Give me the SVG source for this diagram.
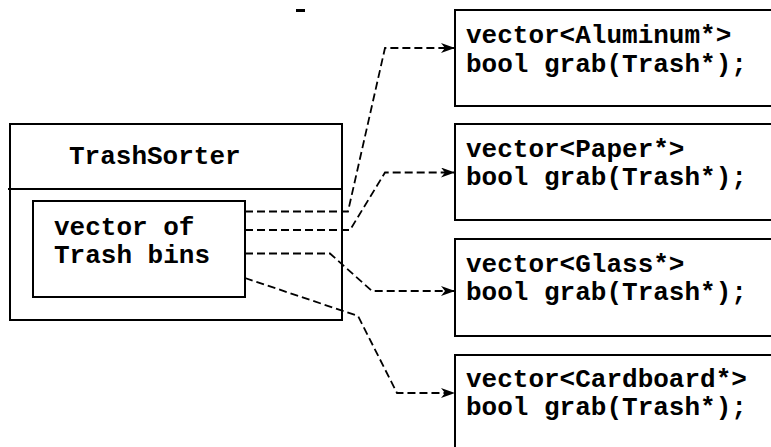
<svg xmlns="http://www.w3.org/2000/svg" width="771" height="447" viewBox="0 0 771 447">
<style>
.box{fill:#fff;stroke:#000;stroke-width:2}
.t{font-family:"Liberation Mono","Courier New",monospace;font-weight:bold;font-size:26px;fill:#000}
.c{fill:none;stroke:#000;stroke-width:1.8;stroke-dasharray:8 4}
</style>
<defs>
<marker id="ah" viewBox="0 0 14 10" refX="14" refY="5" markerWidth="14" markerHeight="10" markerUnits="userSpaceOnUse" orient="auto">
<path d="M0,0 L14,5 L0,10 L4,5 Z" fill="#000"/>
</marker>
</defs>
<rect x="296" y="9" width="9" height="3" fill="#000"/>
<g id="trashsorter">
<rect class="box" x="10" y="124" width="332" height="196"/>
<line x1="8" y1="189" x2="343" y2="189" stroke="#000" stroke-width="2"/>
<text class="t" x="69" y="164">TrashSorter</text>
</g>
<g id="bins">
<rect class="box" x="33" y="201" width="212" height="96"/>
<text class="t" x="54" y="235">vector of</text>
<text class="t" x="54" y="263">Trash bins</text>
</g>
<g id="aluminum">
<rect class="box" x="455" y="10" width="330" height="96"/>
<text class="t" x="466" y="43">vector&lt;Aluminum*&gt;</text>
<text class="t" x="466" y="72">bool grab(Trash*);</text>
</g>
<g id="paper">
<rect class="box" x="455" y="124" width="330" height="96"/>
<text class="t" x="466" y="157">vector&lt;Paper*&gt;</text>
<text class="t" x="466" y="185">bool grab(Trash*);</text>
</g>
<g id="glass">
<rect class="box" x="455" y="239" width="330" height="97"/>
<text class="t" x="466" y="272">vector&lt;Glass*&gt;</text>
<text class="t" x="466" y="300">bool grab(Trash*);</text>
</g>
<g id="cardboard">
<rect class="box" x="455" y="355" width="330" height="110"/>
<text class="t" x="466" y="387">vector&lt;Cardboard*&gt;</text>
<text class="t" x="466" y="415">bool grab(Trash*);</text>
</g>
<g id="connectors">
<polyline class="c" points="245,211.5 348,211.5 385,48 455,48" marker-end="url(#ah)"/>
<polyline class="c" points="245,230 350,230 385,172.5 455,172.5" marker-end="url(#ah)"/>
<polyline class="c" points="245,253.5 330,253.5 372,291 455,291" marker-end="url(#ah)"/>
<polyline class="c" points="245,278 358,316 397,393 455,393" marker-end="url(#ah)"/>
</g>
</svg>
